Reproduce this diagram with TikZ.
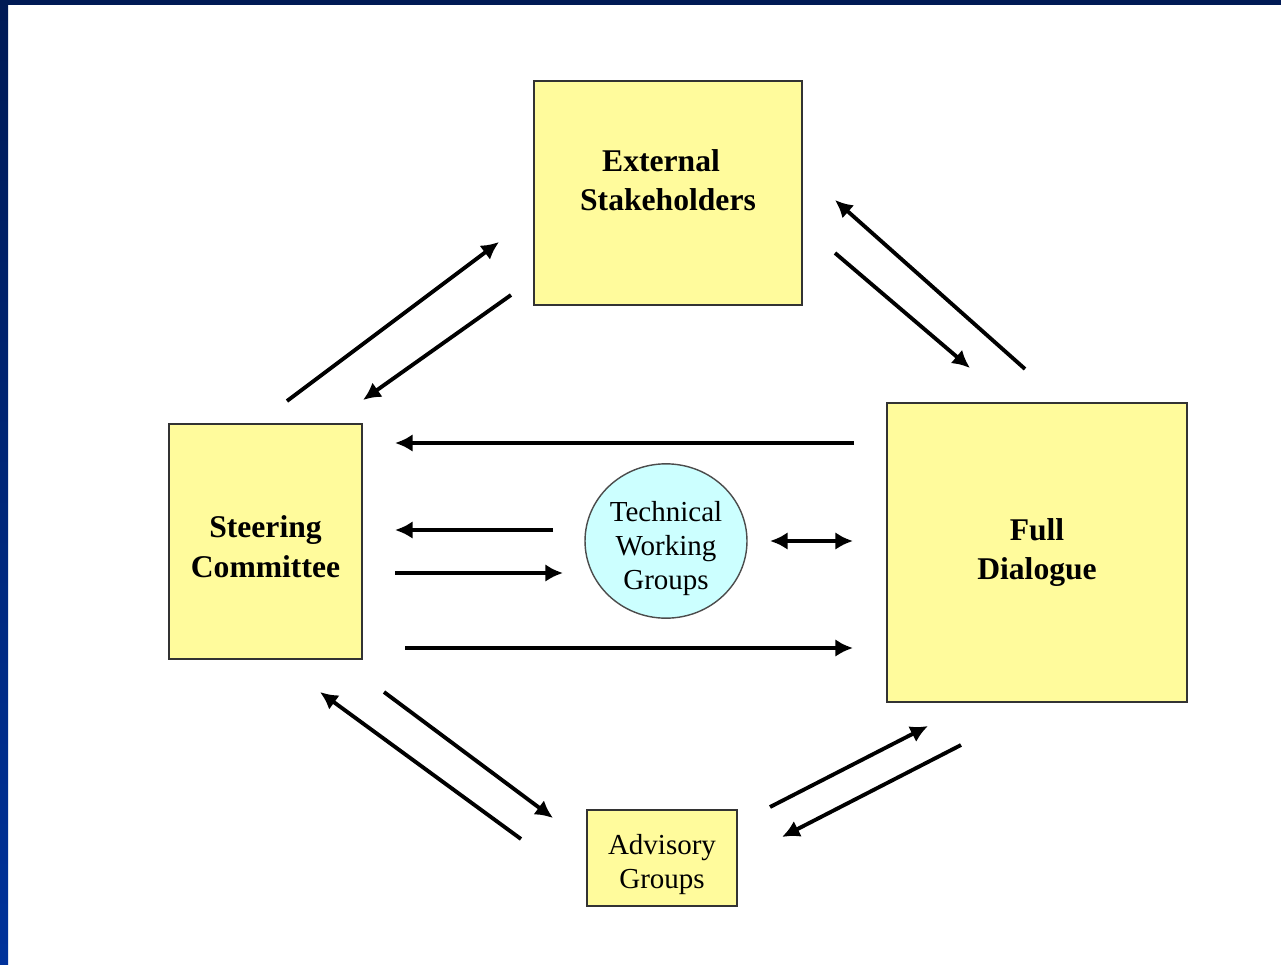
\documentclass[tikz,border=0pt]{standalone}
\usepackage{fontspec}
\setmainfont{Liberation Serif}
\usetikzlibrary{shapes.geometric,arrows.meta}
\definecolor{boxyellow}{RGB}{255,251,156}
\definecolor{circlecyan}{RGB}{204,255,255}
\definecolor{framenavy}{RGB}{0,26,85}
\definecolor{framebright}{RGB}{0,50,155}
\begin{document}
\begin{tikzpicture}[
        x=0.02cm, y=-0.02cm,
        basic/.style = {align=center, inner sep=0pt},
        block/.style = {basic, draw=black!80, line width=0.8pt, fill=boxyellow,
            font=\fontsize{18}{22.7}\selectfont\bfseries},
        smallblock/.style = {basic, draw=black!80, line width=0.8pt, fill=boxyellow,
            font=\fontsize{16.5}{19.5}\selectfont},
        twg/.style = {basic, ellipse, draw=black!70, line width=0.8pt, fill=circlecyan,
            minimum width=3.24cm, minimum height=3cm,
            font=\fontsize{16.5}{19.3}\selectfont},
        flow/.style = {->, line width=2.2pt},
        >={Latex[length=10pt,width=10pt]}]
    \useasboundingbox (0,0) rectangle (1281,964);
    \fill[white] (0,0) rectangle (1281,964);
    \fill[framenavy] (0,0) rectangle (1281,5);
    \shade[top color=framenavy, bottom color=framebright] (0,0) rectangle (8,964);

    \node[block, minimum width=5.36cm, minimum height=4.48cm] (stake) at (668,193)
        {External\hspace*{0.28cm}\\Stakeholders\hspace*{0.28cm}\\[-0.28cm]};
    \node[block, minimum width=3.86cm, minimum height=4.7cm] (steer) at (265.5,541.5)
        {\rule{0pt}{18pt}Steering\\Committee};
    \node[block, minimum width=6cm, minimum height=5.98cm] (full) at (1037,552.5)
        {Full\\Dialogue};
    \node[smallblock, minimum width=3cm, minimum height=1.92cm] (advis) at (662,858)
        {\rule{0pt}{18.5pt}Advisory\\Groups};
    \node[twg] (tech) at (666,541) {\rule{0pt}{20pt}Technical\\Working\\Groups};

    \coordinate (sa1) at (287,401);  \coordinate (sa2) at (499,242);
    \coordinate (as1) at (511,295);  \coordinate (as2) at (363,400);
    \coordinate (fa1) at (1025,369); \coordinate (fa2) at (835,200);
    \coordinate (af1) at (835,253);  \coordinate (af2) at (970,368);
    \coordinate (fs1) at (854,443);  \coordinate (fs2) at (395,443);
    \coordinate (ts1) at (553,530);  \coordinate (ts2) at (395,530);
    \coordinate (st1) at (395,573);  \coordinate (st2) at (563,573);
    \coordinate (tf1) at (770,541);  \coordinate (tf2) at (853,541);
    \coordinate (sf1) at (405,648);  \coordinate (sf2) at (853,648);
    \coordinate (gs1) at (521,839);  \coordinate (gs2) at (320,692);
    \coordinate (sg1) at (384,692);  \coordinate (sg2) at (553,818);
    \coordinate (gf1) at (770,807);  \coordinate (gf2) at (928,726);
    \coordinate (fg1) at (961,745);  \coordinate (fg2) at (782,837);

    \draw[flow] (sa1) -- (sa2);
    \draw[flow] (as1) -- (as2);
    \draw[flow] (fa1) -- (fa2);
    \draw[flow] (af1) -- (af2);
    \draw[flow] (fs1) -- (fs2);
    \draw[flow] (ts1) -- (ts2);
    \draw[flow] (st1) -- (st2);
    \draw[flow, <->] (tf1) -- (tf2);
    \draw[flow] (sf1) -- (sf2);
    \draw[flow] (gs1) -- (gs2);
    \draw[flow] (sg1) -- (sg2);
    \draw[flow] (gf1) -- (gf2);
    \draw[flow] (fg1) -- (fg2);
\end{tikzpicture}
\end{document}
